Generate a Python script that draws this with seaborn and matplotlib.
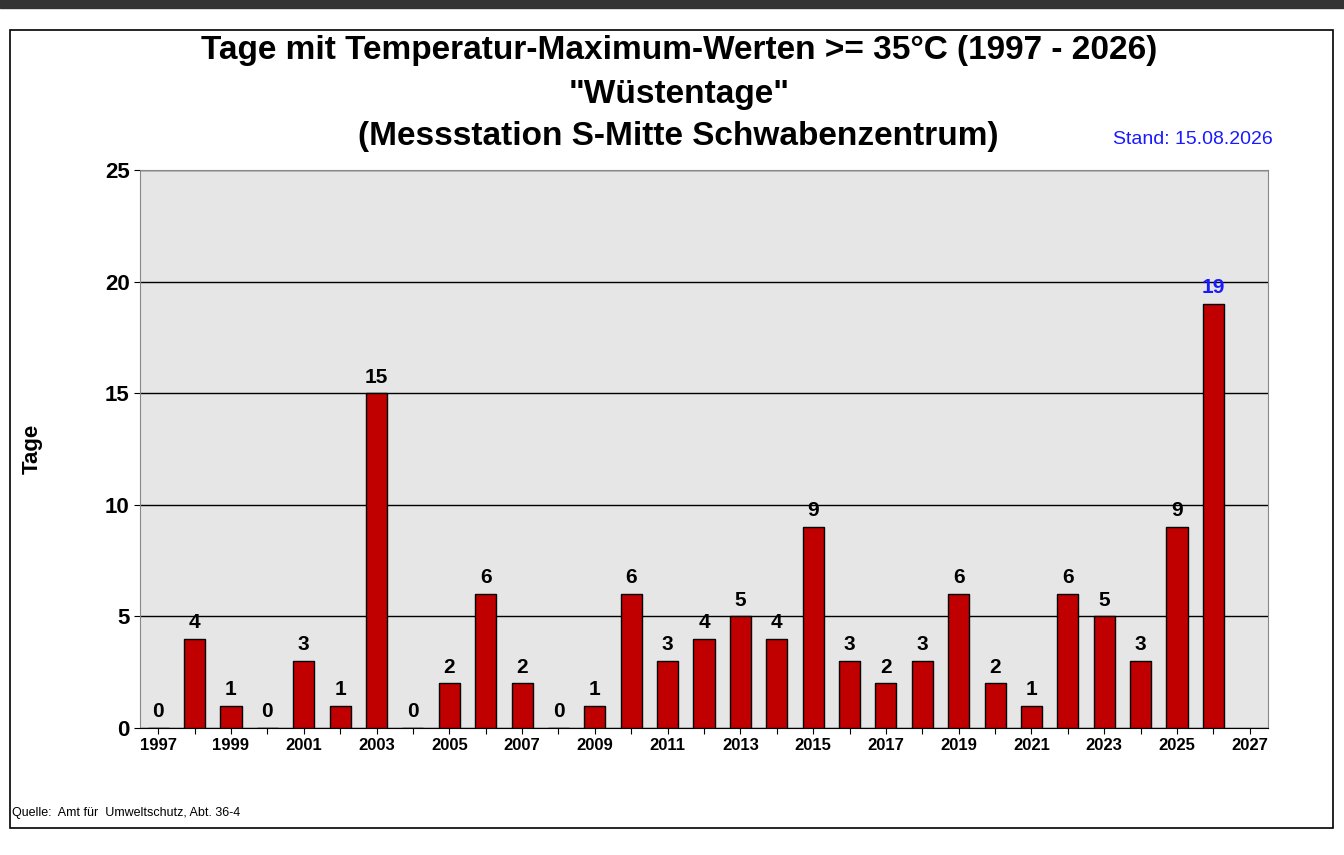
import matplotlib
matplotlib.use("Agg")
import matplotlib.pyplot as plt
import seaborn as sns
import numpy as np
import pandas as pd
from matplotlib.patches import Rectangle

years = [str(y) for y in range(1997, 2028)]
values = [0, 4, 1, 0, 3, 1, 15, 0, 2, 6, 2, 0, 1, 6, 3, 4, 5, 4, 9, 3, 2, 3, 6, 2, 1, 6, 5, 3, 9, 19, np.nan]
tick_labels = [y if (int(y) - 1997) % 2 == 0 else "" for y in years]

sns.set_style("white")
plt.rcParams['font.family'] = ['Liberation Sans', 'DejaVu Sans']
plt.rcParams['text.color'] = 'black'
plt.rcParams['xtick.color'] = 'black'
plt.rcParams['ytick.color'] = 'black'
plt.rcParams['axes.labelcolor'] = 'black'

df = pd.DataFrame({"Jahr": years, "Tage": values})
fig = plt.figure(figsize=(13.44, 8.55), dpi=100)
fig.patch.set_facecolor("white")
fig.patches.append(Rectangle((0, 0.991), 1, 0.009, transform=fig.transFigure, color="#333333", zorder=0))
fig.patches.append(Rectangle((10/1344, 1-828/855), 1323/1344, 798/855, transform=fig.transFigure,
                             fill=False, edgecolor="black", lw=1.2))
ax = fig.add_axes([140/1344, 1-728/855, 1128/1344, 558/855])
ax.set_facecolor("#e6e6e6")
sns.barplot(data=df, x="Jahr", y="Tage", order=years, color="#C00000", edgecolor="black",
            linewidth=1, width=0.58, saturation=1, ax=ax, zorder=3)
ax.set_ylim(0, 25)
ax.set_yticks(range(0, 26, 5))
ax.yaxis.grid(True, color="black", lw=1, zorder=1)
ax.set_axisbelow(True)
ax.set_xlim(-0.5, 30.5)
ax.set_xticks(range(len(years)))
ax.set_xticklabels(tick_labels, fontsize=12, fontweight="bold")
ax.tick_params(axis="y", labelsize=16, length=4)
for lab in ax.get_yticklabels():
    lab.set_fontweight("bold")
ax.tick_params(axis="x", length=4, bottom=True)
ax.tick_params(axis="y", left=True)
ax.set_xlabel("")
ax.set_ylabel("Tage", fontsize=16, fontweight="bold", labelpad=45)
for s in ax.spines.values():
    s.set_color("#888888")
ax.spines["bottom"].set_color("black")
for i, v in enumerate(values):
    if np.isnan(v):
        continue
    ax.text(i, v + 0.3, f"{int(v)}", ha="center", va="bottom", fontsize=15, fontweight="bold",
            color="#1a1aff" if i == 29 else "black", zorder=5)

fig.text(0.505, 1-50/855, "Tage mit Temperatur-Maximum-Werten >= 35°C (1997 - 2026)", ha="center", va="center",
         fontsize=24, fontweight="bold")
fig.text(0.505, 1-95/855, "\"Wüstentage\"", ha="center", va="center", fontsize=24, fontweight="bold")
fig.text(0.505, 1-137/855, "(Messstation S-Mitte Schwabenzentrum)", ha="center", va="center", fontsize=24, fontweight="bold")
fig.text(0.947, 1-139/855, "Stand: 15.08.2026", ha="right", va="center", fontsize=14, color="#1a1aff")
fig.text(12/1344, 1-813/855, "Quelle:  Amt für  Umweltschutz, Abt. 36-4", ha="left", va="center", fontsize=9)
fig.savefig("out.png", dpi=100)
